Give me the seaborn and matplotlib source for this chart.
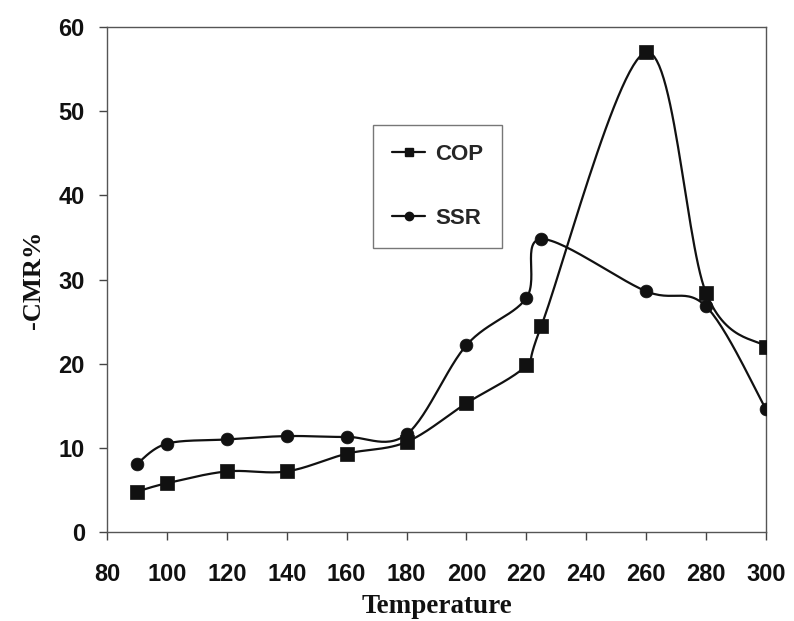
import numpy as np
import pandas as pd
import matplotlib
matplotlib.use("Agg")
import matplotlib.pyplot as plt
import seaborn as sns
from matplotlib.lines import Line2D

# ---- data ----
cop_temp = [90, 100, 120, 140, 160, 180, 200, 220, 225, 260, 280, 300]
cop_cmr = [4.8, 5.8, 7.2, 7.2, 9.3, 10.7, 15.3, 19.8, 24.5, 57.0, 28.4, 22.0]
ssr_temp = [90, 100, 120, 140, 160, 180, 200, 220, 225, 260, 280, 300]
ssr_cmr = [8.1, 10.5, 11.0, 11.4, 11.3, 11.6, 22.2, 27.8, 34.8, 28.6, 26.8, 14.6]
x_ticks = list(range(80, 301, 20))
y_ticks = list(range(0, 61, 10))

sns.set_theme(style="white")
plt.rcParams['font.family'] = ['Liberation Sans', 'DejaVu Sans']

fig = plt.figure(figsize=(7.94, 6.21), dpi=100)
ax = fig.add_axes([0.1348, 0.1433, 0.8299, 0.8132])


def smooth(xs, ys, n=30):
    # Excel-style smoothed line (Catmull-Rom / cubic Bezier with 1/6 tension)
    xs = np.asarray(xs, float)
    ys = np.asarray(ys, float)
    px = np.concatenate([[xs[0]], xs, [xs[-1]]])
    py = np.concatenate([[ys[0]], ys, [ys[-1]]])
    outx, outy = [], []
    for i in range(1, len(px) - 2):
        p0 = np.array([px[i], py[i]])
        p3 = np.array([px[i + 1], py[i + 1]])
        c1 = p0 + (np.array([px[i + 1], py[i + 1]]) - np.array([px[i - 1], py[i - 1]])) / 6
        c2 = p3 - (np.array([px[i + 2], py[i + 2]]) - np.array([px[i], py[i]])) / 6
        t = np.linspace(0, 1, n)[:, None]
        b = ((1 - t) ** 3) * p0 + 3 * ((1 - t) ** 2) * t * c1 + 3 * (1 - t) * t ** 2 * c2 + t ** 3 * p3
        outx.extend(b[:, 0]); outy.extend(b[:, 1])
    return np.array(outx), np.array(outy)


col = "#111111"
for xs, ys, mk, ms in [(cop_temp, cop_cmr, "s", 90), (ssr_temp, ssr_cmr, "o", 85)]:
    sx, sy = smooth(xs, ys)
    sns.lineplot(x=sx, y=sy, ax=ax, color=col, linewidth=1.6, sort=False, estimator=None)
    sns.scatterplot(x=xs, y=ys, ax=ax, color=col, marker=mk, s=ms, edgecolor=col, linewidth=0.5, zorder=5)

ax.set_xlim(80, 300)
ax.set_ylim(0, 60)
ax.set_xticks(x_ticks)
ax.set_yticks(y_ticks)
ax.tick_params(axis="both", which="major", direction="out", length=6, width=1,
               color="#444444", labelsize=17, bottom=True, left=True)
for lab in ax.get_xticklabels() + ax.get_yticklabels():
    lab.set_fontweight("bold")
    lab.set_color("#111111")
ax.tick_params(axis="x", pad=16)
ax.tick_params(axis="y", pad=10)
for s in ax.spines.values():
    s.set_color("#555555")
    s.set_linewidth(1.0)
    s.set_visible(True)

ax.set_xlabel("Temperature", fontfamily="Liberation Serif", fontweight="bold",
              fontsize=19.5, color="#111111", labelpad=6)
ax.set_ylabel("-CMR%", fontfamily="Liberation Serif", fontweight="bold",
              fontsize=19, color="#111111", labelpad=10)

handles = [Line2D([0], [0], color=col, lw=1.6, marker="s", markersize=6),
           Line2D([0], [0], color=col, lw=1.6, marker="o", markersize=6)]
leg = ax.legend(handles, ["COP", "SSR"], loc="upper left",
                bbox_to_anchor=((373 - 107) / 659, (532 - 125) / 505),
                borderaxespad=0.0,
                frameon=True, fancybox=False, handlelength=1.5, labelspacing=1.95,
                borderpad=0.85, handletextpad=0.45,
                prop={"family": "Liberation Sans", "weight": "bold", "size": 16})
leg.get_frame().set_edgecolor("#555555")
leg.get_frame().set_linewidth(1.0)

fig.savefig("out.png", dpi=100)
